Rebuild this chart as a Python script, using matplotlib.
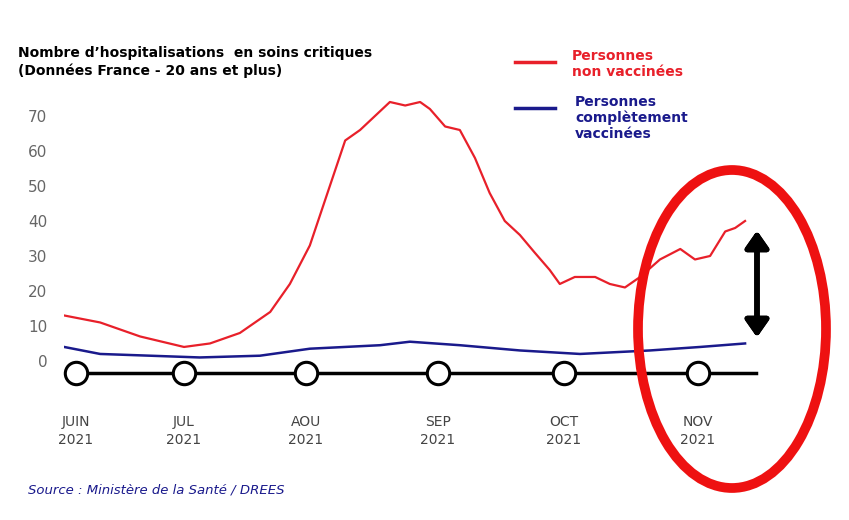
import matplotlib
matplotlib.use("Agg")
import matplotlib.pyplot as plt
import numpy as np
from matplotlib.patches import Ellipse
from matplotlib.lines import Line2D

# days since 1 June 2021
red_days = [-3.3, 6.7, 17.8, 30, 36.6, 44.2, 51.9, 56.9, 61.9, 66.6, 70.2, 73.7, 77.2, 80.7, 84.3, 87.8, 90.1, 93.7, 97.2, 100.8, 104.3, 107.9, 111.5, 115, 118.6, 121, 124.5, 129.2, 132.6, 136.1, 139.6, 144.2, 148.9, 152.3, 155.8, 159.3, 161.6, 163.9]
red_vals = [13, 11, 7, 4, 5, 8, 14, 22, 33, 50, 63, 66, 70, 74, 73, 74, 72, 67, 66, 58, 48, 40, 36, 31, 26, 22, 24, 24, 22, 21, 24, 29, 32, 29, 30, 37, 38, 40]
blue_days = [-3.3, 6.7, 20.6, 34, 49.3, 61.9, 78.4, 85.4, 97.2, 111.5, 125.7, 141.9, 153.5, 163.9]
blue_vals = [4, 2, 1.5, 1, 1.5, 3.5, 4.5, 5.5, 4.5, 3, 2, 3, 4, 5]
month_days = [0, 30, 61, 92, 122, 153]
month_labels = ["JUIN\n2021", "JUL\n2021", "AOU\n2021", "SEP\n2021", "OCT\n2021", "NOV\n2021"]
y_ticks = [0, 10, 20, 30, 40, 50, 60, 70]

# uneven month spacing of the original chart's time axis
knot_days = np.array([-10, 0, 30, 61, 92, 122, 153, 175])
knot_pos = np.array([40, 76, 184, 306, 438, 564, 698, 793], dtype=float)
fwd = lambda d: np.interp(d, knot_days, knot_pos)
inv = lambda p: np.interp(p, knot_pos, knot_days)

fig = plt.figure(figsize=(8.49, 5.2), dpi=100)
ax = fig.add_axes([64/849, 0.25, (760-64)/849, 295/520])
ax.set_xscale("function", functions=(fwd, inv))
ax.set_xlim(inv(64), inv(760))
ax.set_ylim(-8.3, 76)
for s in ax.spines.values():
    s.set_visible(False)
ax.plot(red_days, red_vals, color="#e8202a", lw=1.6)
ax.plot(blue_days, blue_vals, color="#1a1a8c", lw=1.8)
ax.plot([-3.3, 166.5], [-3.5, -3.5], color="black", lw=2.5, zorder=3)
ax.scatter(month_days, [-3.5]*len(month_days), s=260, facecolor="white", edgecolor="black", lw=2.2, zorder=4, clip_on=False)
ax.set_yticks(y_ticks)
ax.set_yticklabels([str(v) for v in y_ticks], color="#666666", fontsize=11)
ax.set_xticks(month_days)
ax.set_xticklabels(month_labels, color="#444444", fontsize=10, linespacing=1.4)
ax.xaxis.set_minor_locator(matplotlib.ticker.NullLocator())
ax.tick_params(length=0, axis="x", pad=18)
ax.tick_params(length=0, axis="y", pad=12)

fig.text(18/849, 1-62/520, "Nombre d\u2019hospitalisations  en soins critiques\n(Données France - 20 ans et plus)",
         fontsize=10, fontweight="bold", va="center", ha="left", linespacing=1.3)
fig.add_artist(Line2D([515/849, 555/849], [1-62/520]*2, color="#e8202a", lw=2.5))
fig.text(572/849, 1-64/520, "Personnes\nnon vaccinées", color="#e8202a", fontsize=10, fontweight="bold", va="center")
fig.add_artist(Line2D([515/849, 555/849], [1-108/520]*2, color="#1a1a8c", lw=2.5))
fig.text(575/849, 1-118/520, "Personnes\ncomplètement\nvaccinées", color="#1a1a8c", fontsize=10, fontweight="bold", va="center")
fig.text(28/849, 1-490/520, "Source : Ministère de la Santé / DREES", color="#1a1a8c", fontsize=9.5, style="italic", va="center")

fig.add_artist(Ellipse((732/849, 1-329/520), 188/849, 318/520, transform=fig.transFigure,
                       fill=False, edgecolor="#ee1111", lw=7))
fig.add_artist(plt.annotate("", xy=(757/849, 1-228/520), xytext=(757/849, 1-340/520), xycoords="figure fraction",
                            arrowprops=dict(arrowstyle="<|-|>,head_width=0.7,head_length=1.0", color="black", lw=4)))
fig.savefig("out.png", dpi=100)
